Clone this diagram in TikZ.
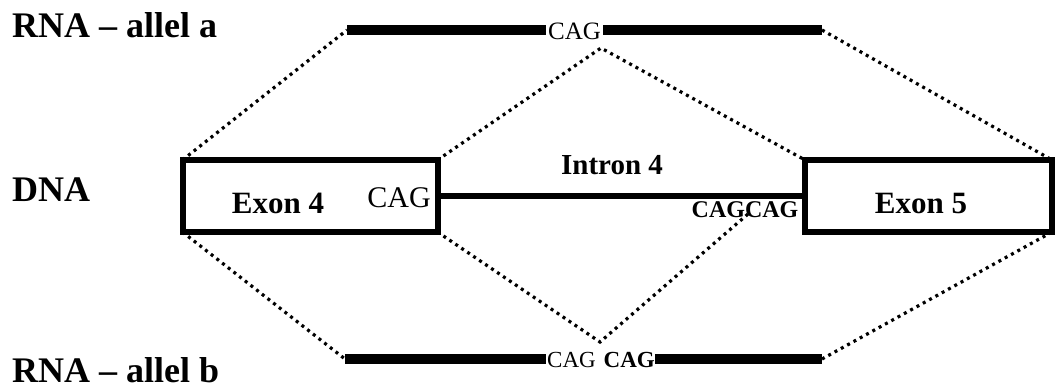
\documentclass[tikz,border=0pt]{standalone}
\usepackage{fontspec}
\setmainfont{Liberation Serif}
\begin{document}
\begin{tikzpicture}[x=1pt,y=-1pt,
  lbl/.style={font=\fontsize{36}{38}\selectfont\bfseries, anchor=west, inner sep=0pt},
  exontxt/.style={font=\fontsize{31}{34}\selectfont\bfseries, inner sep=0pt},
  cagr/.style={font=\fontsize{25}{28}\selectfont, inner sep=0pt},
  cagb/.style={font=\fontsize{24}{27}\selectfont\bfseries, inner sep=0pt},
  box/.style={draw, line width=6pt, minimum height=72pt, outer sep=0pt, inner sep=0pt},
  bar/.style={line width=10pt},
  dot/.style={line width=3.2pt, dash pattern=on 3pt off 4.2pt}]
\useasboundingbox (0,0) rectangle (1055,388);
% labels
\node[lbl] (la) at (12,25) {RNA -- allel a};
\node[lbl] (ld) at (12,190) {DNA};
\node[lbl] (lb) at (12,370) {RNA -- allel b};
% DNA
\node[box, minimum width=255pt] (ex4) at (310,196) {};
\node[box, minimum width=247pt] (ex5) at (928.5,196) {};
\draw[line width=6.5pt] (ex4.east) -- (ex5.west);
\node[exontxt] (t4) at (278,203) {Exon 4};
\node[cagr, font=\fontsize{30}{32}\selectfont] (c4) at (399,198) {CAG};
\node[exontxt] (t5) at (921,203) {Exon 5};
\node[exontxt, font=\fontsize{29}{32}\selectfont\bfseries] (ti) at (612,165) {Intron 4};
\node[cagb] (ci) at (745,210) {CAGCAG};
\coordinate (cij) at (748,214);
% RNA a
\coordinate (a1) at (347,30);
\coordinate (a2) at (546,30);
\coordinate (a3) at (603,30);
\coordinate (a4) at (822,30);
\node[cagr] (ca) at (574.5,31) {CAG};
\draw[bar] (a1) -- (a2);
\draw[bar] (a3) -- (a4);
\coordinate (pa) at (601,48);
% RNA b
\coordinate (b1) at (345,359);
\coordinate (b2) at (546,359);
\coordinate (b3) at (655,359);
\coordinate (b4) at (822,359);
\node[cagr, font=\fontsize{23}{26}\selectfont, anchor=west] (cb1) at (547,360) {CAG};
\node[cagb, font=\fontsize{23}{26}\selectfont\bfseries, anchor=east] (cb2) at (655,360) {CAG};
\draw[bar] (b1) -- (b2);
\draw[bar] (b3) -- (b4);
\coordinate (pb) at (600,342);
% dotted splicing lines
\draw[dot] (ex4.north west) -- (a1);
\draw[dot] (ex4.north east) -- (pa) -- (ex5.north west);
\draw[dot] (a4) -- (ex5.north east);
\draw[dot] (ex4.south west) -- (b1);
\draw[dot] (ex4.south east) -- (pb) -- (cij);
\draw[dot] (b4) -- (ex5.south east);
\end{tikzpicture}
\end{document}
